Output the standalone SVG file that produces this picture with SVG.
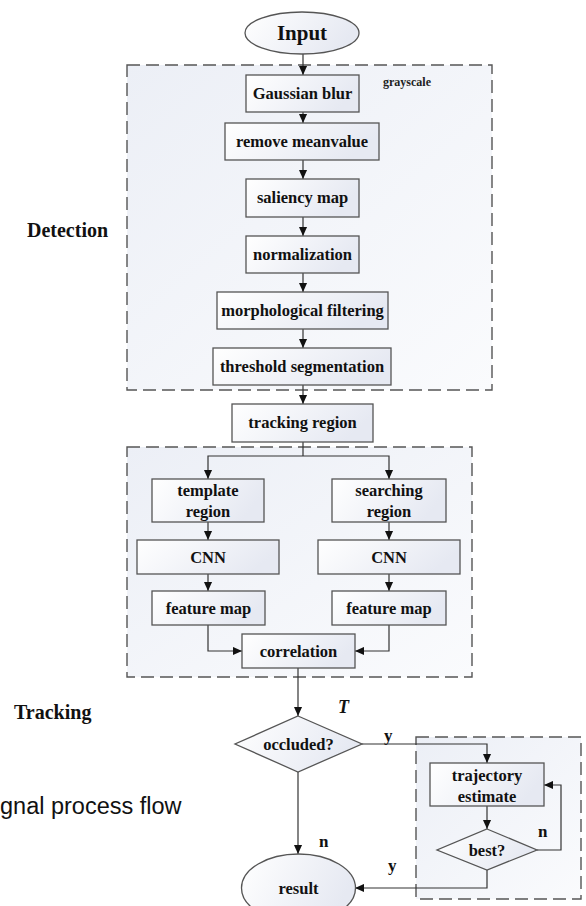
<svg xmlns="http://www.w3.org/2000/svg" width="586" height="906" viewBox="0 0 586 906">
<defs>
<linearGradient id="gBox" x1="0" y1="0" x2="1" y2="0.3">
<stop offset="0" stop-color="#ffffff"/>
<stop offset="1" stop-color="#e6e9f2"/>
</linearGradient>
<linearGradient id="gCont" x1="0" y1="0" x2="1" y2="1">
<stop offset="0" stop-color="#eceff6"/>
<stop offset="1" stop-color="#fafbfd"/>
</linearGradient>
<marker id="ah" viewBox="0 0 10 10" refX="10" refY="5" markerWidth="9" markerHeight="9" markerUnits="userSpaceOnUse" orient="auto">
<path d="M0,0.5 L10,5 L0,9.5 z" fill="#111"/>
</marker>
</defs>
<style>
.cont{fill:url(#gCont);stroke:#555;stroke-width:1.4;stroke-dasharray:13 6}
.box{fill:url(#gBox);stroke:#555;stroke-width:1.3}
.t{font-family:"Liberation Serif","Times New Roman",serif;font-weight:bold;font-size:16.5px;fill:#111;text-anchor:middle}
.lab{font-family:"Liberation Serif","Times New Roman",serif;font-weight:bold;font-size:20px;fill:#111}
.sm{font-family:"Liberation Serif","Times New Roman",serif;font-weight:bold;font-size:17px;fill:#111}
.cn{fill:none;stroke:#333;stroke-width:1.2}
.ar{marker-end:url(#ah)}
</style>
<rect width="586" height="906" fill="#ffffff"/>

<g id="containers">
<rect id="detection-box" class="cont" x="127" y="65" width="365" height="325"/>
<rect id="tracking-box" class="cont" x="127" y="447" width="345" height="230"/>
<rect id="occlusion-box" class="cont" x="416" y="737" width="165" height="162"/>
</g>

<g id="labels">
<text class="lab" x="27" y="237">Detection</text>
<text class="lab" x="14" y="719">Tracking</text>
<text x="383" y="86" style="font-family:'Liberation Serif',serif;font-weight:bold;font-size:12px;fill:#222">grayscale</text>
<text x="0" y="814" style="font-family:'Liberation Sans',Arial,sans-serif;font-size:23.5px;fill:#111">gnal process flow</text>
<text x="338" y="713" style="font-family:'Liberation Serif',serif;font-weight:bold;font-style:italic;font-size:18px;fill:#111">T</text>
<text class="sm" x="384" y="741">y</text>
<text class="sm" x="538" y="837">n</text>
<text class="sm" x="388" y="871">y</text>
<text class="sm" x="319" y="847">n</text>
</g>

<g id="connectors">
<line class="cn ar" x1="303" y1="54" x2="303" y2="75"/>
<line class="cn ar" x1="303" y1="112" x2="303" y2="123"/>
<line class="cn ar" x1="303" y1="160" x2="303" y2="179"/>
<line class="cn ar" x1="303" y1="217" x2="303" y2="236"/>
<line class="cn ar" x1="303" y1="273" x2="303" y2="292"/>
<line class="cn ar" x1="303" y1="329" x2="303" y2="348"/>
<line class="cn ar" x1="303" y1="385" x2="303" y2="404"/>
<polyline class="cn" points="303,442 303,456"/>
<polyline class="cn ar" points="303,456 208,456 208,479"/>
<polyline class="cn ar" points="303,456 389,456 389,479"/>
<line class="cn ar" x1="208" y1="522" x2="208" y2="540"/>
<line class="cn ar" x1="389" y1="522" x2="389" y2="540"/>
<line class="cn ar" x1="208" y1="574" x2="208" y2="591"/>
<line class="cn ar" x1="389" y1="574" x2="389" y2="591"/>
<polyline class="cn ar" points="208,625 208,651 242,651"/>
<polyline class="cn ar" points="389,625 389,651 355,651"/>
<line class="cn ar" x1="298" y1="668" x2="298" y2="716"/>
<polyline class="cn ar" points="362,744 487,744 487,763"/>
<line class="cn ar" x1="298" y1="772" x2="298" y2="854"/>
<line class="cn ar" x1="487" y1="806" x2="487" y2="829"/>
<polyline class="cn ar" points="537,850 561,850 561,785 544,785"/>
<polyline class="cn ar" points="487,870 487,888 355,888"/>
</g>

<g id="input">
<ellipse class="box" cx="302" cy="33" rx="57" ry="21"/>
<text class="t" x="302" y="40" style="font-size:21px">Input</text>
</g>
<g id="gaussian-blur">
<rect class="box" x="246" y="75" width="113" height="37"/>
<text class="t" x="302.5" y="99">Gaussian blur</text>
</g>
<g id="remove-meanvalue">
<rect class="box" x="225" y="123" width="154" height="37"/>
<text class="t" x="302" y="147">remove meanvalue</text>
</g>
<g id="saliency-map">
<rect class="box" x="246" y="179" width="113" height="38"/>
<text class="t" x="302.5" y="203">saliency map</text>
</g>
<g id="normalization">
<rect class="box" x="246" y="236" width="113" height="37"/>
<text class="t" x="302.5" y="260">normalization</text>
</g>
<g id="morphological-filtering">
<rect class="box" x="217" y="292" width="171" height="37"/>
<text class="t" x="302.5" y="316">morphological filtering</text>
</g>
<g id="threshold-segmentation">
<rect class="box" x="213" y="348" width="178" height="37"/>
<text class="t" x="302" y="372">threshold segmentation</text>
</g>
<g id="tracking-region">
<rect class="box" x="232" y="404" width="141" height="38"/>
<text class="t" x="302.5" y="428">tracking region</text>
</g>
<g id="template-region">
<rect class="box" x="152" y="479" width="112" height="43"/>
<text class="t" x="208" y="496">template</text>
<text class="t" x="208" y="517">region</text>
</g>
<g id="searching-region">
<rect class="box" x="332" y="479" width="114" height="43"/>
<text class="t" x="389" y="496">searching</text>
<text class="t" x="389" y="517">region</text>
</g>
<g id="cnn-left">
<rect class="box" x="137" y="540" width="142" height="34"/>
<text class="t" x="208" y="563">CNN</text>
</g>
<g id="cnn-right">
<rect class="box" x="318" y="540" width="142" height="34"/>
<text class="t" x="389" y="563">CNN</text>
</g>
<g id="feature-map-left">
<rect class="box" x="152" y="591" width="113" height="34"/>
<text class="t" x="208.5" y="614">feature map</text>
</g>
<g id="feature-map-right">
<rect class="box" x="332" y="591" width="114" height="34"/>
<text class="t" x="389" y="614">feature map</text>
</g>
<g id="correlation">
<rect class="box" x="242" y="634" width="113" height="34"/>
<text class="t" x="298.5" y="657">correlation</text>
</g>
<g id="occluded">
<polygon class="box" points="298,716 362,744 298,772 235,744"/>
<text class="t" x="298.5" y="750">occluded?</text>
</g>
<g id="trajectory-estimate">
<rect class="box" x="430" y="763" width="114" height="43"/>
<text class="t" x="487" y="781">trajectory</text>
<text class="t" x="487" y="802">estimate</text>
</g>
<g id="best">
<polygon class="box" points="487,829 537,850 487,870 437,850"/>
<text class="t" x="487" y="856">best?</text>
</g>
<g id="result">
<ellipse class="box" cx="298.5" cy="888" rx="57" ry="34"/>
<text class="t" x="298.5" y="894">result</text>
</g>
</svg>
